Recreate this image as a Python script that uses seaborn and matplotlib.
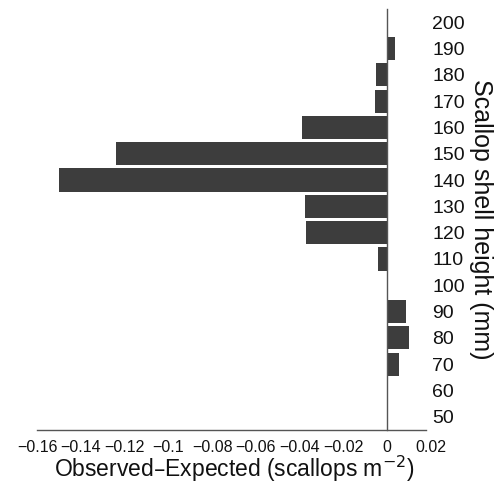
import matplotlib
matplotlib.use('Agg')
import matplotlib.pyplot as plt
import seaborn as sns
import pandas as pd

# shell height classes (mm) and observed - expected density
heights = [70, 80, 90, 110, 120, 130, 140, 150, 160, 170, 180, 190]
obs_minus_exp = [0.0055, 0.0101, 0.0087, -0.0041, -0.0373, -0.0376,
                 -0.150, -0.124, -0.039, -0.0056, -0.0049, 0.0036]

ytick_vals = list(range(50, 201, 10))
xtick_vals = [-0.16, -0.14, -0.12, -0.1, -0.08, -0.06, -0.04, -0.02, 0, 0.02]
xtick_labels = ['\u22120.16', '\u22120.14', '\u22120.12', '\u22120.1', '\u22120.08',
                '\u22120.06', '\u22120.04', '\u22120.02', '0', '0.02']

data = pd.DataFrame({'height': heights, 'diff': obs_minus_exp})

sns.set_style('white')
plt.rcParams['font.family'] = ['Liberation Sans', 'DejaVu Sans']

fig = plt.figure(figsize=(5.01, 4.84), dpi=100)
ax = fig.add_axes([0.0745, 0.1116, 0.7855, 0.8698])

sns.barplot(data=data, x='diff', y='height', orient='h', native_scale=True,
            width=0.88, color='#3d3d3d', saturation=1, linewidth=0, ax=ax)

ax.set_xlim(-0.16, 0.02)
ax.set_ylim(45, 205)

# zero line acts as the y axis, labels sit on the right
ax.spines['left'].set_position(('data', 0))
ax.spines['right'].set_visible(False)
ax.spines['top'].set_visible(False)
ax.spines['bottom'].set_bounds(-0.16, 0.018)
for s in ['left', 'bottom']:
    ax.spines[s].set_color('#555555')
    ax.spines[s].set_linewidth(1.0)

ax.yaxis.tick_right()
ax.yaxis.set_label_position('right')
ax.set_yticks(ytick_vals)
ax.set_yticklabels([str(v) for v in ytick_vals], fontsize=14)
ax.tick_params(axis='y', length=0, pad=1, colors='#111111')

ax.set_xticks(xtick_vals)
ax.set_xticklabels(xtick_labels, fontsize=11.5)
ax.tick_params(axis='x', direction='in', length=2.5, width=0.8, color='#555555',
               pad=7, labelcolor='#111111')

ax.set_xlabel('Observed\u2013Expected (scallops m$^{\u22122}$)', fontsize=16.5,
              labelpad=-1, color='#111111')
ax.set_ylabel('Scallop shell height (mm)', fontsize=18, rotation=270,
              labelpad=20, color='#111111')

fig.savefig('out.png', dpi=100)
